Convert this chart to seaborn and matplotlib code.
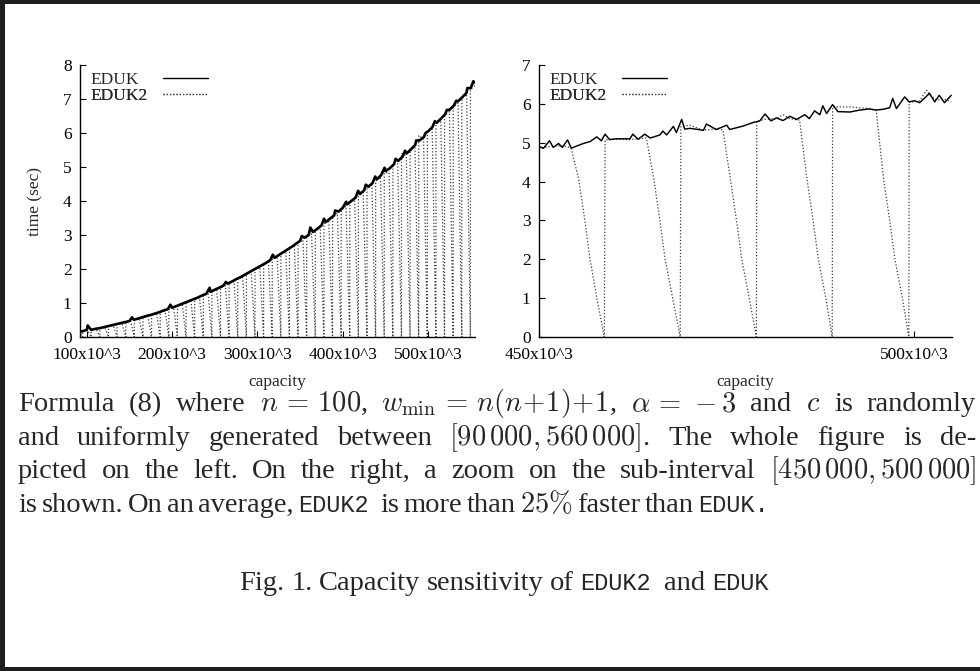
import pandas as pd
import seaborn as sns
import matplotlib.pyplot as plt
from matplotlib.patches import Rectangle
from matplotlib.lines import Line2D

# capacity in units of 10^3, time in seconds
# left panel: EDUK over the whole range
left_cap = [90, 95, 100, 101, 105, 110, 115, 120, 125, 130, 135, 140, 145, 150, 153, 155,
            160, 165, 170, 175, 180, 185, 190, 195, 198, 200, 205, 210, 215, 220, 225,
            230, 235, 240, 244, 245, 250, 255, 260, 263, 265, 270, 275, 280, 285, 290,
            295, 300, 305, 310, 315, 318, 320, 325, 330, 335, 340, 345, 350, 352, 355,
            360, 362, 365, 370, 375, 378, 380, 385, 390, 391, 395, 400, 404, 405, 410,
            415, 418, 420, 425, 427, 430, 435, 438, 440, 445, 449, 450, 455, 460, 462,
            465, 470, 473, 475, 480, 485, 486, 490, 495, 497, 500, 505, 508, 510, 515,
            520, 522, 525, 530, 533, 535, 540, 545, 546, 550, 553, 555]
left_eduk = [0.15, 0.17, 0.21, 0.34, 0.21, 0.24, 0.26, 0.29, 0.32, 0.35, 0.38, 0.41, 0.44, 0.47, 0.58, 0.51,
             0.54, 0.58, 0.62, 0.65, 0.69, 0.73, 0.78, 0.82, 0.95, 0.86, 0.91, 0.96, 1.01, 1.06, 1.11,
             1.16, 1.22, 1.27, 1.45, 1.33, 1.39, 1.45, 1.51, 1.62, 1.57, 1.63, 1.70, 1.76, 1.83, 1.90,
             1.97, 2.04, 2.11, 2.18, 2.26, 2.42, 2.33, 2.41, 2.49, 2.57, 2.65, 2.74, 2.83, 2.97, 2.92,
             3.00, 3.22, 3.09, 3.18, 3.28, 3.48, 3.38, 3.48, 3.58, 3.72, 3.69, 3.80, 3.98, 3.90, 4.00,
             4.10, 4.30, 4.21, 4.31, 4.48, 4.42, 4.53, 4.72, 4.64, 4.76, 4.98, 4.88, 4.96, 5.08, 5.24,
             5.18, 5.30, 5.48, 5.40, 5.52, 5.65, 5.78, 5.78, 5.88, 6.00, 6.05, 6.17, 6.35, 6.30, 6.42,
             6.55, 6.68, 6.68, 6.80, 6.95, 6.93, 7.05, 7.18, 7.32, 7.32, 7.52, 7.48]

# left panel: EDUK2 drops to ~0 near each of these capacities
left_dip_zero = [95.1, 105.2, 115.3, 125.4, 135.5, 145.6, 155.7, 165.8, 175.9, 186.0, 196.1, 206.2,
                 216.3, 226.4, 236.5, 246.6, 256.7, 266.8, 276.9, 287.0, 297.1, 307.2, 317.3, 327.4,
                 337.5, 347.6, 357.7, 367.8, 377.9, 388.0, 398.1, 408.2, 418.3, 428.4, 438.5, 448.6,
                 458.7, 468.8, 478.9, 489.0, 499.1, 509.2, 519.3, 529.4, 539.5, 549.6]
left_dip_start = [90.7, 100.8, 110.9, 121.0, 131.1, 141.2, 151.3, 161.4, 171.5, 181.6, 191.7, 201.8,
                  211.9, 222.0, 232.1, 242.2, 252.3, 262.4, 272.5, 282.6, 292.7, 302.8, 312.9, 323.0,
                  333.1, 343.2, 353.3, 363.4, 373.5, 383.6, 393.7, 403.8, 413.9, 424.0, 434.1, 444.2,
                  454.3, 464.4, 474.5, 484.6, 494.7, 504.8, 514.9, 525.0, 535.1, 545.2]
left_dip_top = [0.16, 0.20, 0.24, 0.29, 0.34, 0.40, 0.47, 0.53, 0.61, 0.69, 0.77, 0.86,
                0.96, 1.06, 1.16, 1.28, 1.39, 1.51, 1.64, 1.77, 1.91, 2.05, 2.20, 2.36,
                2.52, 2.68, 2.86, 3.03, 3.22, 3.43, 3.64, 3.84, 4.04, 4.25, 4.47, 4.70,
                4.84, 5.10, 5.33, 5.58, 5.82, 6.12, 6.38, 6.63, 6.88, 7.14]
left_dip_back = [0.18, 0.22, 0.26, 0.31, 0.37, 0.43, 0.50, 0.57, 0.65, 0.73, 0.82, 0.91,
                 1.01, 1.11, 1.22, 1.33, 1.45, 1.58, 1.70, 1.84, 1.98, 2.13, 2.28, 2.44,
                 2.60, 2.77, 2.94, 3.12, 3.32, 3.53, 3.74, 3.94, 4.14, 4.36, 4.59, 4.82,
                 5.07, 5.40, 5.55, 5.93, 6.05, 6.25, 6.50, 6.76, 7.02, 7.28]
left_eduk2_end = (555, 7.40)

# right panel: zoom on [450, 505]
right_cap = [450.0, 450.6, 451.4, 451.9, 452.6, 453.1, 453.8, 454.3, 455.9, 456.8, 457.7, 458.3,
             458.8, 459.4, 460.3, 462.1, 462.5, 463.2, 464.1, 464.8, 466.1, 466.5, 467.0, 467.9,
             468.3, 469.0, 469.4, 470.1, 471.9, 472.3, 473.6, 475.0, 475.4, 477.2, 478.5, 479.4,
             480.1, 480.9, 481.6, 482.5, 483.4, 484.3, 485.4, 486.0, 486.7, 487.4, 487.8, 488.3,
             489.1, 489.8, 491.4, 492.7, 494.0, 494.9, 495.8, 496.7, 497.1, 497.6, 498.7, 499.3,
             500.0, 500.7, 502.0, 502.7, 503.3, 504.0, 504.9]
right_eduk = [4.90, 4.86, 5.05, 4.88, 4.98, 4.88, 5.07, 4.86, 4.98, 5.03, 5.15, 5.05,
              5.22, 5.08, 5.10, 5.10, 5.22, 5.09, 5.22, 5.12, 5.20, 5.30, 5.20, 5.42,
              5.26, 5.60, 5.35, 5.37, 5.32, 5.48, 5.34, 5.45, 5.34, 5.43, 5.52, 5.56,
              5.74, 5.56, 5.64, 5.57, 5.68, 5.60, 5.72, 5.62, 5.82, 5.72, 5.95, 5.75,
              5.98, 5.80, 5.79, 5.84, 5.87, 5.84, 5.86, 5.90, 6.14, 5.88, 6.18, 6.05,
              6.08, 6.03, 6.27, 6.05, 6.22, 6.03, 6.22]
right_cap2 = [450.0, 451.4, 452.6, 453.8, 454.3, 455.3, 456.1, 456.8, 457.7, 458.7, 458.8, 460.3,
              462.1, 463.2, 464.3, 465.3, 466.1, 466.8, 467.8, 468.8, 468.9, 470.1, 471.9, 473.6,
              474.5, 475.5, 476.3, 477.0, 478.0, 478.95, 479.0, 480.1, 481.6, 482.5, 483.4, 484.7,
              485.7, 486.5, 487.2, 488.2, 489.05, 489.1, 490.5, 491.4, 492.7, 494.0, 494.9, 495.9,
              496.7, 497.4, 498.4, 499.25, 499.3, 500.0, 500.7, 501.6, 502.2, 503.0, 504.0, 504.9]
right_eduk2 = [4.85, 4.90, 4.92, 4.90, 4.84, 4.05, 3.00, 2.00, 1.00, 0.0, 5.07, 5.10,
               5.08, 5.10, 5.12, 4.05, 3.00, 2.00, 1.00, 0.0, 5.42, 5.45, 5.32, 5.36,
               5.33, 4.05, 3.00, 2.00, 1.00, 0.0, 5.55, 5.60, 5.62, 5.72, 5.62, 5.58,
               4.05, 3.00, 2.00, 1.00, 0.0, 5.93, 5.92, 5.92, 5.90, 5.88, 5.82, 4.05,
               3.00, 2.00, 1.00, 0.0, 6.05, 6.05, 6.08, 6.35, 6.20, 6.10, 6.12, 6.05]

left_xticks = [100, 200, 300, 400, 500]
right_xticks = [450, 500]

# EDUK2 on the left: go down to 0 and jump back up at every dip
cap2, val2 = [], []
for s, t, z, b in zip(left_dip_start, left_dip_top, left_dip_zero, left_dip_back):
    cap2 += [s, z, z + 0.05]
    val2 += [t, 0.0, b]
cap2.append(left_eduk2_end[0])
val2.append(left_eduk2_end[1])

left1 = pd.DataFrame({"capacity": left_cap, "time": left_eduk})
left2 = pd.DataFrame({"capacity": cap2, "time": val2})
right1 = pd.DataFrame({"capacity": right_cap, "time": right_eduk})
right2 = pd.DataFrame({"capacity": right_cap2, "time": right_eduk2})

sns.set_style("ticks")
plt.rcParams["font.family"] = ["Liberation Serif", "DejaVu Serif"]
plt.rcParams["mathtext.fontset"] = "cm"
plt.rcParams["xtick.direction"] = "in"
plt.rcParams["ytick.direction"] = "in"

W, H = 980, 671
AX_H = 272
fig = plt.figure(figsize=(W / 100, H / 100), dpi=100)
ax1 = fig.add_axes([80 / W, 1 - 337 / H, 395 / W, AX_H / H])
ax2 = fig.add_axes([539 / W, 1 - 337 / H, 413 / W, AX_H / H])

TICK_FS = 12.5
EDUK2_COLOR = "#3a3a3a"
dot = (0, (1, 1.6))


def key_entry(ax, axw, handle, label, top_px, extra_pad):
    # gnuplot-style key: text first, sample line after, samples lined up
    leg = ax.legend([handle], [label], loc="upper left",
                    bbox_to_anchor=(10 / axw, 1 - top_px / AX_H), frameon=False,
                    markerfirst=False, handlelength=2.6, handletextpad=0.92 + extra_pad,
                    fontsize=TICK_FS, borderaxespad=0, borderpad=0)
    ax.add_artist(leg)


for ax, axw, d1, d2, lw in [(ax1, 395, left1, left2, 1.9), (ax2, 413, right1, right2, 1.05)]:
    sns.lineplot(data=d2, x="capacity", y="time", ax=ax, color=EDUK2_COLOR, lw=0.9,
                 linestyle=dot, estimator=None, sort=False, legend=False)
    sns.lineplot(data=d1, x="capacity", y="time", ax=ax, color="black", lw=lw,
                 estimator=None, sort=False, legend=False)
    key_entry(ax, axw, Line2D([], [], color="black", lw=1.0), "EDUK", 6.5, 0.5)
    key_entry(ax, axw, Line2D([], [], color=EDUK2_COLOR, lw=0.9, linestyle=dot), "EDUK2", 22.5, 0.0)
    for s in ["top", "right"]:
        ax.spines[s].set_visible(False)
    for s in ["left", "bottom"]:
        ax.spines[s].set_linewidth(1.0)
        ax.spines[s].set_color("black")
    ax.tick_params(length=4, width=0.8, labelsize=TICK_FS, colors="black")
    ax.tick_params(axis="x", pad=7)
    ax.tick_params(axis="y", pad=6)
    ax.set_xlabel("capacity", fontsize=TICK_FS, labelpad=8)

ax1.set_xlim(92, 555)
ax1.set_ylim(0, 8)
ax1.set_yticks(range(0, 9))
ax1.set_xticks(left_xticks)
ax1.set_xticklabels([f"{v}x10^3" for v in left_xticks])
ax1.set_ylabel("time (sec)", fontsize=TICK_FS, labelpad=14)

ax2.set_xlim(450, 505)
ax2.set_ylim(0, 7)
ax2.set_yticks(range(0, 8))
ax2.set_xticks(right_xticks)
ax2.set_xticklabels([f"{v}x10^3" for v in right_xticks])
ax2.set_ylabel("")

# caption, set word by word so lines can be justified
SERIF = ["Liberation Serif", "DejaVu Serif"]
MONO = ["Liberation Mono", "DejaVu Sans Mono"]
FS, FS_MONO = 20.5, 17.0
renderer = fig.canvas.get_renderer()


def place_line(tokens, y, x0, x1=None, center=None, gap=7.0):
    arts, widths = [], []
    for s, fam, extra in tokens:
        fs = FS_MONO if fam is MONO else FS
        t = fig.text(0, 1 - y / H, s, fontsize=fs, family=fam, va="baseline", ha="left")
        arts.append(t)
        widths.append(t.get_window_extent(renderer).width)
    extras = [tok[2] for tok in tokens]
    if x1 is not None:
        gap = (x1 - x0 - sum(widths) - sum(extras[:-1])) / (len(tokens) - 1)
    total = sum(widths) + gap * (len(tokens) - 1) + sum(extras[:-1])
    if center is not None:
        x0 = center - total / 2
    x = x0
    for t, w, e in zip(arts, widths, extras):
        t.set_x(x / W)
        x += w + gap + e


def words(s, fam=SERIF):
    return [(w, fam, 0) for w in s.split(" ")]


line1 = words("Formula (8) where") + [(r"$n\,=\,100$,", SERIF, 0), (r"$w_{\min}\,=\,n(n\!+\!1)\!+\!1$,", SERIF, 0),
                                      (r"$\alpha\,=\,-3$", SERIF, 0)] + words("and") + [(r"$c$", SERIF, 0)] + words("is randomly")
line2 = words("and uniformly generated between") + [(r"$[90\,000, 560\,000]$.", SERIF, 0)] + words("The whole figure is de-")
line3 = words("picted on the left. On the right, a zoom on the sub-interval") + [(r"$[450\,000, 500\,000]$", SERIF, 0)]
line4 = words("is shown. On an average,") + [("EDUK2", MONO, 7)] + words("is more than") + \
    [(r"$25\%$", SERIF, 0)] + words("faster than") + [("EDUK.", MONO, 0)]
line5 = words("Fig. 1. Capacity sensitivity of") + [("EDUK2", MONO, 7)] + words("and") + [("EDUK", MONO, 0)]

place_line(line1, 411, 18, 976)
place_line(line2, 445, 18, 976)
place_line(line3, 478, 18, 976)
place_line(line4, 512, 18, gap=4.5)
place_line(line5, 590, 0, center=504, gap=6.5)

# dark frame on the left, top and bottom edges
for x, y, w, h in [(0, 0, 5, H), (0, H - 4, W, 4), (0, 0, W, 4)]:
    fig.add_artist(Rectangle((x / W, y / H), w / W, h / H, transform=fig.transFigure,
                             facecolor="#1e1e1e", edgecolor="none"))

fig.savefig("out.png", dpi=100)
